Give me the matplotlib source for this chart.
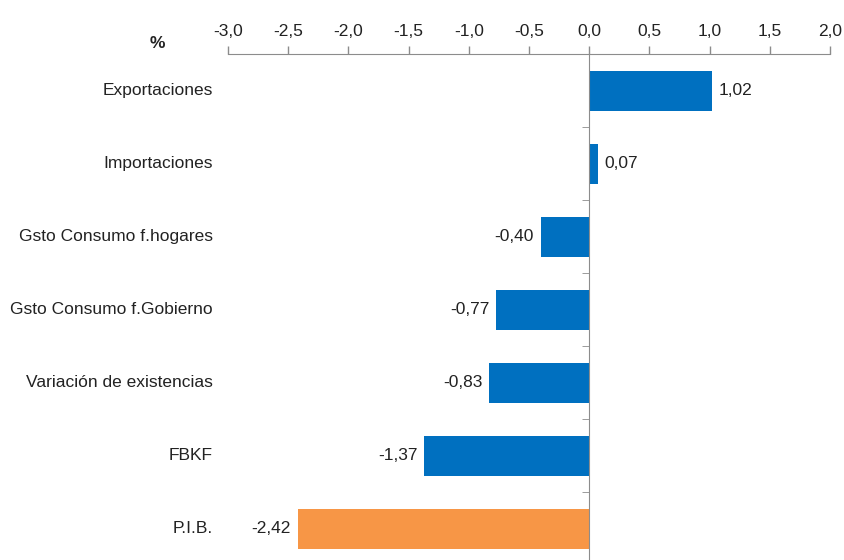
import matplotlib.pyplot as plt
import matplotlib.font_manager as fm
from matplotlib.ticker import FixedLocator, FuncFormatter

# datos
categorias = ['Exportaciones', 'Importaciones', 'Gsto Consumo f.hogares',
              'Gsto Consumo f.Gobierno', 'Variación de existencias', 'FBKF', 'P.I.B.']
valores = [1.02, 0.07, -0.40, -0.77, -0.83, -1.37, -2.42]
colores = ['#0070C0'] * 6 + ['#F79646']
ticks_x = [-3.0, -2.5, -2.0, -1.5, -1.0, -0.5, 0.0, 0.5, 1.0, 1.5, 2.0]

nombres = {f.name for f in fm.fontManager.ttflist}
fuente = 'Liberation Sans Narrow' if 'Liberation Sans Narrow' in nombres else 'Liberation Sans'
plt.rcParams['font.family'] = [fuente, 'DejaVu Sans']
texto_color = '#222222'
eje_color = '#8c8c8c'

fig = plt.figure(figsize=(8.45, 5.6), dpi=100)
ax = fig.add_axes([228 / 845, -0.0098, 602 / 845, 0.9125])

pos = list(range(len(categorias)))
ax.barh(pos, valores, height=0.55, color=colores, zorder=2)
ax.set_xlim(-3.0, 2.0)
ax.set_ylim(len(categorias) - 0.5, -0.5)

# eje x arriba
ax.xaxis.tick_top()
ax.xaxis.set_major_locator(FixedLocator(ticks_x))
ax.xaxis.set_major_formatter(FuncFormatter(lambda v, p: f'{v:.1f}'.replace('.', ',')))
ax.tick_params(axis='x', length=6, width=1, color=eje_color, labelsize=12.5,
               labelcolor=texto_color, pad=5)

# eje vertical en cero con marcas entre categorías
ax.spines['left'].set_position(('data', 0))
ax.spines['left'].set_color(eje_color)
ax.spines['top'].set_color(eje_color)
ax.spines['right'].set_visible(False)
ax.spines['bottom'].set_visible(False)
ax.set_yticks([])
ax.set_yticks([p + 0.5 for p in pos[:-1]], minor=True)
ax.tick_params(axis='y', which='minor', length=5, color=eje_color, direction='out')

for p, cat in zip(pos, categorias):
    ax.annotate(cat, xy=(0, p), xycoords=('axes fraction', 'data'),
                xytext=(-11, 0), textcoords='offset points',
                ha='right', va='center', fontsize=12.5, color=texto_color)

for p, v in zip(pos, valores):
    etiqueta = f'{v:.2f}'.replace('.', ',')
    ax.annotate(etiqueta, xy=(v, p), xytext=(5 if v >= 0 else -5, 0),
                textcoords='offset points', ha='left' if v >= 0 else 'right',
                va='center', fontsize=12.5, color=texto_color)

fig.text(157 / 845, 1 - 44 / 560, '%', ha='center', va='center',
         fontsize=12.5, fontweight='bold', color=texto_color)

fig.savefig('out.png', dpi=100)
